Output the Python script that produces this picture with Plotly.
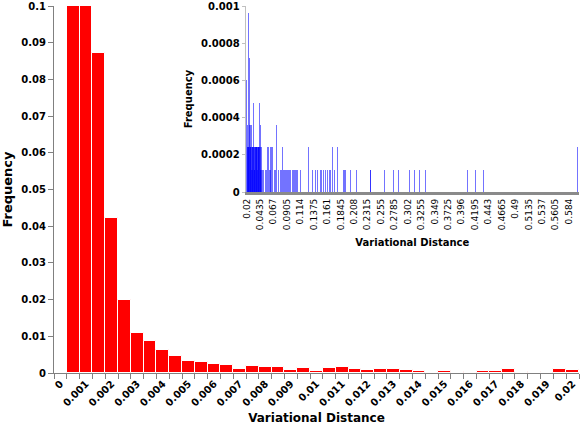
import plotly.graph_objects as go

# ---------------- main histogram ----------------
main_x = [0, 0.0005, 0.001, 0.0015, 0.002, 0.0025, 0.003, 0.0035, 0.004, 0.0045,
          0.005, 0.0055, 0.006, 0.0065, 0.007, 0.0075, 0.008, 0.0085, 0.009, 0.0095,
          0.01, 0.0105, 0.011, 0.0115, 0.012, 0.0125, 0.013, 0.0135, 0.014, 0.0145,
          0.015, 0.0155, 0.016, 0.0165, 0.017, 0.0175, 0.018, 0.0185, 0.019, 0.0195, 0.02]
main_y = [0, 0.1, 0.1, 0.0873, 0.0422, 0.0198, 0.0109, 0.0086, 0.0062, 0.0047,
          0.0034, 0.0029, 0.0024, 0.0023, 0.0012, 0.0020, 0.0016, 0.0016, 0.0008, 0.0014,
          0.0005, 0.0014, 0.0016, 0.0010, 0.0007, 0.0012, 0.0010, 0.0007, 0.0005, 0.0004,
          0.0005, 0.0002, 0.0004, 0.0005, 0.0005, 0.0012, 0.0004, 0.0004, 0.0, 0.0012, 0.0008]
main_tick_vals = [0, 0.001, 0.002, 0.003, 0.004, 0.005, 0.006, 0.007, 0.008, 0.009, 0.01,
                  0.011, 0.012, 0.013, 0.014, 0.015, 0.016, 0.017, 0.018, 0.019, 0.02]
main_tick_text = ["0", "0.001", "0.002", "0.003", "0.004", "0.005", "0.006", "0.007", "0.008",
                  "0.009", "0.01", "0.011", "0.012", "0.013", "0.014", "0.015", "0.016", "0.017",
                  "0.018", "0.019", "0.02"]
main_y_ticks = [0, 0.01, 0.02, 0.03, 0.04, 0.05, 0.06, 0.07, 0.08, 0.09, 0.1]
main_y_text = ["0", "0.01", "0.02", "0.03", "0.04", "0.05", "0.06", "0.07", "0.08", "0.09", "0.1"]

# ---------------- inset histogram (bin position, frequency) ----------------
inset_x = [0.0200, 0.0205, 0.0210, 0.0215, 0.0220, 0.0225, 0.0228, 0.0235, 0.0240, 0.0245,
           0.0250, 0.0255, 0.0260, 0.0265, 0.0270, 0.0275, 0.0280, 0.0285, 0.0290, 0.0295,
           0.0300, 0.0305, 0.0310, 0.0315, 0.0320, 0.0325, 0.0330, 0.0335, 0.0340, 0.0345,
           0.0350, 0.0355, 0.0360, 0.0365, 0.0370, 0.0375, 0.0380, 0.0385, 0.0390, 0.0395,
           0.0400, 0.0405, 0.0410, 0.0415, 0.0420, 0.0425, 0.0430, 0.0435, 0.0440, 0.0445,
           0.0450, 0.0460, 0.0475, 0.0490, 0.0520, 0.0545, 0.0560, 0.0575, 0.0590, 0.0605,
           0.0619, 0.0635, 0.0647, 0.0675, 0.0690, 0.0705, 0.0717, 0.0745, 0.0760, 0.0785,
           0.0800, 0.0820, 0.0835, 0.0850, 0.0865, 0.0880, 0.0895, 0.0910, 0.0925, 0.0940,
           0.0956, 0.1000, 0.1013, 0.1030, 0.1043, 0.1073, 0.1090, 0.1142, 0.1275, 0.1352,
           0.1404, 0.1432, 0.1479, 0.1509, 0.1537, 0.1579, 0.1607, 0.1636, 0.1666, 0.1694,
           0.1724, 0.1781, 0.1886, 0.1903, 0.1928, 0.2003, 0.2120, 0.2282, 0.2364, 0.2369,
           0.2608, 0.2765, 0.2846, 0.3050, 0.3125, 0.3225, 0.3330, 0.4057, 0.4202, 0.4336,
           0.5987]
inset_y = [0.0006, 0.00024, 0.00024, 0.00036, 0.00024, 0.00024, 0.00096, 0.00024, 0.00036, 0.00072,
           0.00024, 0.00036, 0.00024, 0.00024, 0.00024, 0.00036, 0.00024, 0.00012, 0.00024, 0.00024,
           0.00024, 0.00012, 0.00024, 0.00048, 0.00024, 0.00012, 0.00012, 0.00024, 0.00024, 0.00024,
           0.00024, 0.00024, 0.00024, 0.00024, 0.00024, 0.00024, 0.00024, 0.00012, 0.00024, 0.00024,
           0.00024, 0.00024, 0.00024, 0.00024, 0.00048, 0.00024, 0.00024, 0.00012, 0.00036, 0.00012,
           0.00024, 0.00012, 0.00012, 0.00012, 0.00012, 0.00012, 0.00024, 0.00024, 0.00012, 0.00012,
           0.00024, 0.00024, 0.00024, 0.00012, 0.00012, 0.00012, 0.00036, 0.00012, 0.00012, 0.00012,
           0.00012, 0.00024, 0.00012, 0.00012, 0.00012, 0.00012, 0.00012, 0.00012, 0.00012, 0.00012,
           0.00012, 0.00012, 0.00012, 0.00012, 0.00012, 0.00012, 0.00012, 0.00012, 0.00024, 0.00012,
           0.00012, 0.00012, 0.00012, 0.00012, 0.00012, 0.00012, 0.00012, 0.00012, 0.00012, 0.00024,
           0.00012, 0.00024, 0.00012, 0.00012, 0.00012, 0.00012, 0.00012, 0.00012, 0.00012, 0.00012,
           0.00012, 0.00012, 0.00012, 0.00012, 0.00012, 0.00012, 0.00012, 0.00012, 0.00012, 0.00012,
           0.00024]
inset_tick_vals = [0.02, 0.0435, 0.067, 0.0905, 0.114, 0.1375, 0.161, 0.1845, 0.208, 0.2315,
                   0.255, 0.2785, 0.302, 0.3255, 0.349, 0.3725, 0.396, 0.4195, 0.443, 0.4665,
                   0.49, 0.5135, 0.537, 0.5605, 0.584]
inset_tick_text = ["0.02", "0.0435", "0.067", "0.0905", "0.114", "0.1375", "0.161", "0.1845",
                   "0.208", "0.2315", "0.255", "0.2785", "0.302", "0.3255", "0.349", "0.3725",
                   "0.396", "0.4195", "0.443", "0.4665", "0.49", "0.5135", "0.537", "0.5605", "0.584"]
inset_y_ticks = [0, 0.0002, 0.0004, 0.0006, 0.0008, 0.001]
inset_y_text = ["0", "0.0002", "0.0004", "0.0006", "0.0008", "0.001"]

FONT = "DejaVu Sans"
AX = "#808080"

fig = go.Figure()
fig.add_trace(go.Bar(x=main_x, y=main_y, width=0.0005,
                     marker=dict(color="#FF0000", line=dict(color="white", width=1)),
                     xaxis="x", yaxis="y", showlegend=False))
fig.add_trace(go.Bar(x=inset_x, y=inset_y, width=0.0017,
                     marker=dict(color="rgba(0,0,255,0.55)", line=dict(width=0)),
                     xaxis="x2", yaxis="y2", showlegend=False))

fig.update_layout(
    width=581, height=425,
    margin=dict(l=54, r=2, t=6, b=52),
    paper_bgcolor="white", plot_bgcolor="white",
    bargap=0, barmode="overlay",
    xaxis=dict(domain=[0, 1], range=[-0.00025, 0.02025], tickmode="array", automargin=False,
               tickvals=main_tick_vals, ticktext=main_tick_text, tickangle=-45,
               ticks="", showgrid=False, zeroline=False, showline=True,
               linecolor=AX, linewidth=1,
               tickfont=dict(family=FONT, size=10, color="black", weight="bold"),
               minor=dict(tickmode="linear", tick0=-0.00025, dtick=0.0005, ticks="outside",
                          ticklen=5, tickcolor=AX, showgrid=False),
               title=dict(text="Variational Distance", standoff=8,
                          font=dict(family=FONT, size=12, color="black", weight="bold"))),
    yaxis=dict(domain=[0, 1], range=[0, 0.1], tickmode="array", tickvals=main_y_ticks,
               automargin=False,
               ticktext=main_y_text, ticks="outside", ticklen=5, tickcolor=AX,
               showgrid=False, zeroline=False, showline=True, linecolor=AX, linewidth=1,
               tickfont=dict(family=FONT, size=10, color="black", weight="bold"),
               title=dict(text="Frequency", standoff=8,
                          font=dict(family=FONT, size=13, color="black", weight="bold"))),
    xaxis2=dict(domain=[0.365, 1], anchor="y2", range=[0.0183, 0.6015], tickmode="array",
                automargin=False,
                tickvals=inset_tick_vals, ticktext=inset_tick_text, tickangle=-90,
                ticks="", showgrid=False, zeroline=False, showline=True,
                linecolor="#8a8a8a", linewidth=3,
                tickfont=dict(family=FONT, size=9, color="black"),
                title=dict(text="Variational Distance", standoff=10,
                           font=dict(family=FONT, size=10, color="black", weight="bold"))),
    yaxis2=dict(domain=[0.493, 1], anchor="x2", range=[0, 0.001], tickmode="array",
                automargin=False,
                tickvals=inset_y_ticks, ticktext=inset_y_text, ticks="outside", ticklen=3,
                tickcolor="#c0c0c0", showgrid=False, zeroline=False, showline=True,
                linecolor="#c0c0c0", linewidth=1,
                tickfont=dict(family=FONT, size=10, color="black", weight="bold"),
                title=dict(text="Frequency", standoff=6,
                           font=dict(family=FONT, size=10, color="black", weight="bold"))),
)

fig.write_html("out.html", config={"displayModeBar": False},
               post_script="document.body.style.margin='0';document.body.style.overflow='hidden';")
